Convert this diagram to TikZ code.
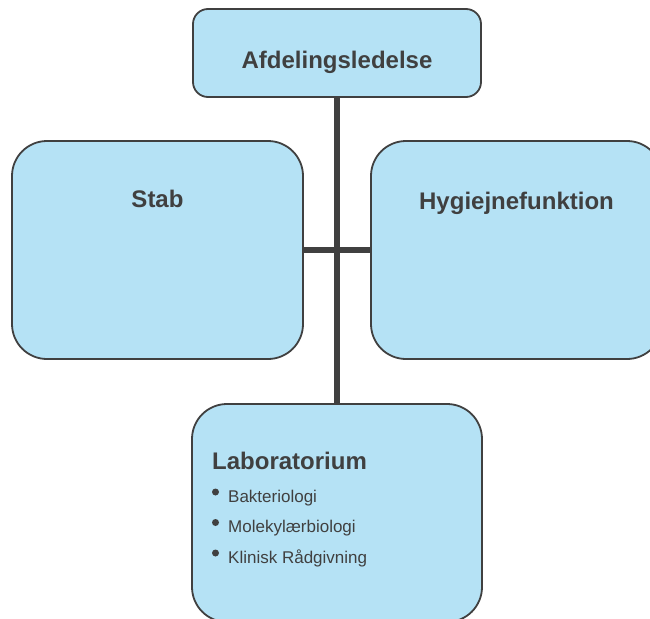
\documentclass[tikz,border=0pt]{standalone}
\usepackage{fontspec}
\setmainfont{Liberation Sans}
\definecolor{boxfill}{HTML}{B5E2F5}
\definecolor{ink}{HTML}{404040}
\begin{document}
\begin{tikzpicture}[x=1pt,y=-1pt,
  box/.style={draw=ink, line width=1.8pt, fill=boxfill, rounded corners=#1, inner sep=0pt},
  link/.style={draw=ink, line width=6pt},
  title/.style={font=\bfseries\fontsize{24}{28}\selectfont, text=ink, anchor=base, inner sep=0pt},
  item/.style={font=\fontsize{17}{20}\selectfont, text=ink, anchor=base west, inner sep=0pt},
  dot/.style={circle, fill=ink, inner sep=0pt, minimum size=7pt}]
\useasboundingbox (0,0) rectangle (650,618);
\clip (0,0) rectangle (650,618);
\node[box=15pt, minimum width=288pt, minimum height=88pt] (top) at (337,53) {};
\node[box=35pt, minimum width=291pt, minimum height=218pt] (stab) at (157.5,250) {};
\node[box=35pt, minimum width=291pt, minimum height=218pt] (hyg) at (516.5,250) {};
\node[box=35pt, minimum width=290pt, minimum height=218pt] (lab) at (337,513) {};
\draw[link] (top.south) -- (lab.north);
\draw[link] (stab.east) -- (hyg.west);
\node[title] (t1) at (337,69) {Afdelingsledelse};
\node[title] (t2) at (157.5,207) {Stab};
\node[title] (t3) at (516.5,209) {Hygiejnefunktion};
\node[title, anchor=base west] (t4) at (212,469) {Laboratorium};
\node[item] (i1) at (228,502) {Bakteriologi};
\node[item] (i2) at (228,532) {Molekylærbiologi};
\node[item] (i3) at (228,563) {Klinisk Rådgivning};
\node[dot] (d1) at (215.5,492) {};
\node[dot] (d2) at (215.5,522.5) {};
\node[dot] (d3) at (215.5,553) {};
\end{tikzpicture}
\end{document}
